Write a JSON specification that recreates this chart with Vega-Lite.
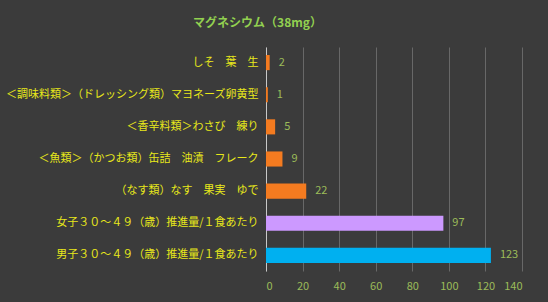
{
  "$schema": "https://vega.github.io/schema/vega-lite/v6.json",
  "autosize": {"type": "none"},
  "width": 256,
  "height": 224,
  "padding": {"left": 266, "top": 47, "right": 26, "bottom": 31},
  "background": "#3b3b3b",
  "title": {
    "text": "マグネシウム（38mg）",
    "font": "Noto Sans CJK JP",
    "fontSize": 12,
    "fontWeight": "bold",
    "color": "#92d050",
    "anchor": "middle",
    "frame": "bounds",
    "offset": 17,
    "dx": -6
  },
  "config": {
    "view": {"stroke": null},
    "font": "Noto Sans CJK JP"
  },
  "data": {
    "values": [
      {"name": "しそ　葉　生", "value": 2, "group": "food"},
      {"name": "＜調味料類＞（ドレッシング類）マヨネーズ卵黄型", "value": 1, "group": "food"},
      {"name": "＜香辛料類＞わさび　練り", "value": 5, "group": "food"},
      {"name": "＜魚類＞（かつお類）缶詰　油漬　フレーク", "value": 9, "group": "food"},
      {"name": "（なす類）なす　果実　ゆで", "value": 22, "group": "food"},
      {"name": "女子３０～４９（歳）推進量/１食あたり", "value": 97, "group": "female"},
      {"name": "男子３０～４９（歳）推進量/１食あたり", "value": 123, "group": "male"}
    ]
  },
  "encoding": {
    "y": {
      "field": "name",
      "type": "nominal",
      "sort": null,
      "scale": {"paddingInner": 0.53, "paddingOuter": 0.25},
      "axis": {
        "title": null,
        "ticks": false,
        "domain": true,
        "domainColor": "#c8c8c8",
        "domainWidth": 1,
        "labelColor": "#e8e81a",
        "labelFontSize": 11,
        "labelPadding": 8,
        "labelLimit": 400,
        "grid": false
      }
    },
    "x": {
      "field": "value",
      "type": "quantitative",
      "scale": {"domain": [0, 140], "nice": false},
      "axis": {
        "title": null,
        "values": [0, 20, 40, 60, 80, 100, 120, 140],
        "ticks": false,
        "domain": false,
        "grid": true,
        "gridColor": "#686868",
        "gridWidth": 1,
        "labelColor": "#9bbb59",
        "labelFontSize": 11,
        "labelPadding": 9
      }
    }
  },
  "layer": [
    {
      "mark": {"type": "bar"},
      "encoding": {
        "color": {
          "field": "group",
          "type": "nominal",
          "scale": {"domain": ["food", "female", "male"], "range": ["#f47b20", "#cc99ff", "#00b0f0"]},
          "legend": null
        }
      }
    },
    {
      "mark": {"type": "text", "align": "left", "baseline": "middle", "dx": 9, "fontSize": 11, "color": "#9bbb59"},
      "encoding": {
        "text": {"field": "value", "type": "quantitative"}
      }
    }
  ]
}
